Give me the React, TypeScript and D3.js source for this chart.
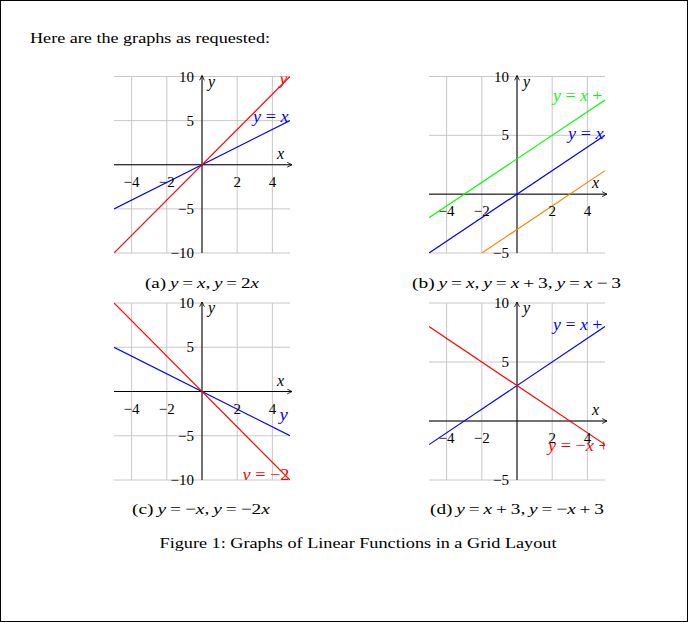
import React, { useRef, useEffect } from 'react';
import * as d3 from 'd3';

// tick labels
const xTickValues = [-4, -2, 2, 4];
const xGridValues = [-4, -2, 0, 2, 4];
const yTicksWide = [-10, -5, 5, 10];
const yGridWide = [-10, -5, 0, 5, 10];
const yTicksShort = [-5, 5, 10];
const yGridShort = [-5, 0, 5, 10];

// lines: slope, intercept, colour, label and where the label sits (data units)
const seriesA = [
	{ m: 1, b: 0, color: '#0000ff', label: 'y = x', lx: 2.9, ly: 4.85 },
	{ m: 2, b: 0, color: '#ff0000', label: 'y = 2x', lx: 4.4, ly: 9.1 },
];
const seriesB = [
	{ m: 1, b: 0, color: '#0000ff', label: 'y = x', lx: 2.9, ly: 4.7 },
	{ m: 1, b: 3, color: '#00ff00', label: 'y = x + 3', lx: 2.05, ly: 7.9 },
	{ m: 1, b: -3, color: '#ff8000', label: 'y = x − 3', lx: 5.5, ly: 1 },
];
const seriesC = [
	{ m: -1, b: 0, color: '#0000ff', label: 'y = −x', lx: 4.4, ly: -3.2 },
	{ m: -2, b: 0, color: '#ff0000', label: 'y = −2x', lx: 2.3, ly: -10.05 },
];
const seriesD = [
	{ m: 1, b: 3, color: '#0000ff', label: 'y = x + 3', lx: 2.05, ly: 7.7 },
	{ m: -1, b: 3, color: '#ff0000', label: 'y = −x + 3', lx: 1.76, ly: -2.5 },
];

const captions = [
	'(a) y = x, y = 2x',
	'(b) y = x, y = x + 3, y = x − 3',
	'(c) y = −x, y = −2x',
	'(d) y = x + 3, y = −x + 3',
];

const FONT = "'Liberation Serif', 'DejaVu Serif', serif";

// rough widths (em) of math glyphs, so labels run as wide as the original
const glyphEm = { y: 0.49, x: 0.57, '=': 0.78, '+': 0.78, '−': 0.78, ' ': 0.25 };
const labelWidth = (s, em) =>
	s.split('').reduce((acc, c) => acc + (glyphEm[c] ?? 0.5), 0) * em;

// writes math-ish text: latin letters italic, the rest upright
function mathText(sel, str, gap) {
	const words = str.split(' ');
	words.forEach((w, wi) => {
		const upright = w.startsWith('(');
		const chunks = w.split(/([a-z])/).filter((s) => s !== '');
		chunks.forEach((c, ci) => {
			const t = sel
				.append('tspan')
				.attr('font-style', !upright && /^[a-z]$/.test(c) ? 'italic' : 'normal')
				.text(c);
			if (wi > 0 && ci === 0) t.attr('dx', gap);
		});
	});
}

function App() {
	const svgRef = useRef(null);

	useEffect(() => {
		const svg = d3.select(svgRef.current);
		svg.selectAll('*').remove();

		const defs = svg.append('defs');
		defs
			.append('marker')
			.attr('id', 'arr')
			.attr('viewBox', '0 0 10 10')
			.attr('refX', 9)
			.attr('refY', 5)
			.attr('markerWidth', 6)
			.attr('markerHeight', 6)
			.attr('markerUnits', 'userSpaceOnUse')
			.attr('orient', 'auto')
			.append('path')
			.attr('d', 'M1,1 L9,5 L1,9')
			.attr('fill', 'none')
			.attr('stroke', '#000')
			.attr('stroke-width', 1.4);

		svg
			.append('rect')
			.attr('x', 0.5)
			.attr('y', 0.5)
			.attr('width', 687)
			.attr('height', 621)
			.attr('fill', 'white')
			.attr('stroke', '#000');

		svg
			.append('text')
			.attr('x', 30)
			.attr('y', 43)
			.attr('font-family', FONT)
			.attr('font-size', 15)
			.attr('textLength', 240)
			.attr('lengthAdjust', 'spacingAndGlyphs')
			.text('Here are the graphs as requested:');

		const panels = [
			{ x0: 114, x1: 290, y0: 76.5, y1: 253, yDom: [-10, 10], yTicks: yTicksWide, yGrid: yGridWide, series: seriesA, cx: 145, cy: 288, cw: 114 },
			{ x0: 429, x1: 605, y0: 76.5, y1: 253, yDom: [-5, 10], yTicks: yTicksShort, yGrid: yGridShort, series: seriesB, cx: 412, cy: 288, cw: 209 },
			{ x0: 114, x1: 290, y0: 303, y1: 480, yDom: [-10, 10], yTicks: yTicksWide, yGrid: yGridWide, series: seriesC, cx: 132, cy: 514, cw: 138 },
			{ x0: 429, x1: 605, y0: 303, y1: 480, yDom: [-5, 10], yTicks: yTicksShort, yGrid: yGridShort, series: seriesD, cx: 430, cy: 514, cw: 174 },
		];

		panels.forEach((p, i) => {
			const x = d3.scaleLinear().domain([-5, 5]).range([p.x0, p.x1]);
			const y = d3.scaleLinear().domain(p.yDom).range([p.y1, p.y0]);
			const g = svg.append('g');
			const clipId = 'clip' + i;
			defs
				.append('clipPath')
				.attr('id', clipId)
				.append('rect')
				.attr('x', p.x0)
				.attr('y', p.y0)
				.attr('width', p.x1 - p.x0)
				.attr('height', p.y1 - p.y0);

			// grid
			g.selectAll('.vg')
				.data(xGridValues)
				.join('line')
				.attr('x1', (d) => x(d))
				.attr('x2', (d) => x(d))
				.attr('y1', p.y0)
				.attr('y2', p.y1)
				.attr('stroke', '#c8c8c8')
				.attr('stroke-width', 1);
			g.selectAll('.hg')
				.data(p.yGrid)
				.join('line')
				.attr('x1', p.x0)
				.attr('x2', p.x1)
				.attr('y1', (d) => y(d))
				.attr('y2', (d) => y(d))
				.attr('stroke', '#c8c8c8')
				.attr('stroke-width', 1);

			// axes
			g.append('line')
				.attr('x1', p.x0)
				.attr('x2', p.x1 + 2)
				.attr('y1', y(0))
				.attr('y2', y(0))
				.attr('stroke', '#000')
				.attr('stroke-width', 1)
				.attr('marker-end', 'url(#arr)');
			g.append('line')
				.attr('x1', x(0))
				.attr('x2', x(0))
				.attr('y1', p.y1)
				.attr('y2', p.y0 - 1)
				.attr('stroke', '#000')
				.attr('stroke-width', 1)
				.attr('marker-end', 'url(#arr)');

			// lines
			const lineGen = d3
				.line()
				.x((d) => x(d[0]))
				.y((d) => y(d[1]));
			const plot = g.append('g').attr('clip-path', `url(#${clipId})`);
			plot
				.selectAll('path')
				.data(p.series)
				.join('path')
				.attr('d', (s) => lineGen(x.domain().map((v) => [v, s.m * v + s.b])))
				.attr('fill', 'none')
				.attr('stroke', (s) => s.color)
				.attr('stroke-width', 1.2);

			// tick labels
			g.selectAll('.xt')
				.data(xTickValues)
				.join('text')
				.attr('x', (d) => x(d))
				.attr('y', y(0) + 22)
				.attr('text-anchor', 'middle')
				.attr('font-family', FONT)
				.attr('font-size', 15)
				.text((d) => (d < 0 ? '\u2212' + Math.abs(d) : String(d)));
			g.selectAll('.yt')
				.data(p.yTicks)
				.join('text')
				.attr('x', x(0) - 8)
				.attr('y', (d) => y(d) + 5)
				.attr('text-anchor', 'end')
				.attr('font-family', FONT)
				.attr('font-size', 15)
				.text((d) => (d < 0 ? '\u2212' + Math.abs(d) : String(d)));

			// axis names
			g.append('text')
				.attr('x', p.x1 - 13)
				.attr('y', y(0) - 6)
				.attr('font-family', FONT)
				.attr('font-size', 16)
				.attr('font-style', 'italic')
				.text('x');
			g.append('text')
				.attr('x', x(0) + 6)
				.attr('y', p.y0 + 10)
				.attr('font-family', FONT)
				.attr('font-size', 16)
				.attr('font-style', 'italic')
				.text('y');

			// line labels (clipped by the plot box)
			p.series.forEach((s) => {
				const t = plot
					.append('text')
					.attr('x', x(s.lx))
					.attr('y', y(s.ly))
					.attr('font-family', FONT)
					.attr('font-size', 16)
					.attr('fill', s.color)
					.attr('textLength', labelWidth(s.label, 15.2))
					.attr('lengthAdjust', 'spacingAndGlyphs');
				mathText(t, s.label, 4);
			});

			// caption
			const c = svg
				.append('text')
				.attr('x', p.cx)
				.attr('y', p.cy)
				.attr('font-family', FONT)
				.attr('font-size', 15)
				.attr('textLength', p.cw)
				.attr('lengthAdjust', 'spacingAndGlyphs');
			mathText(c, captions[i], 3);
		});

		svg
			.append('text')
			.attr('x', 358)
			.attr('y', 548)
			.attr('text-anchor', 'middle')
			.attr('font-family', FONT)
			.attr('font-size', 15)
			.attr('textLength', 397)
			.attr('lengthAdjust', 'spacingAndGlyphs')
			.text('Figure 1: Graphs of Linear Functions in a Grid Layout');
	}, []);

	return (
		<React.Fragment>
			<style>{'body{margin:0}'}</style>
			<svg ref={svgRef} width={688} height={622} style={{ display: 'block' }} />
		</React.Fragment>
	);
}

export default App;
